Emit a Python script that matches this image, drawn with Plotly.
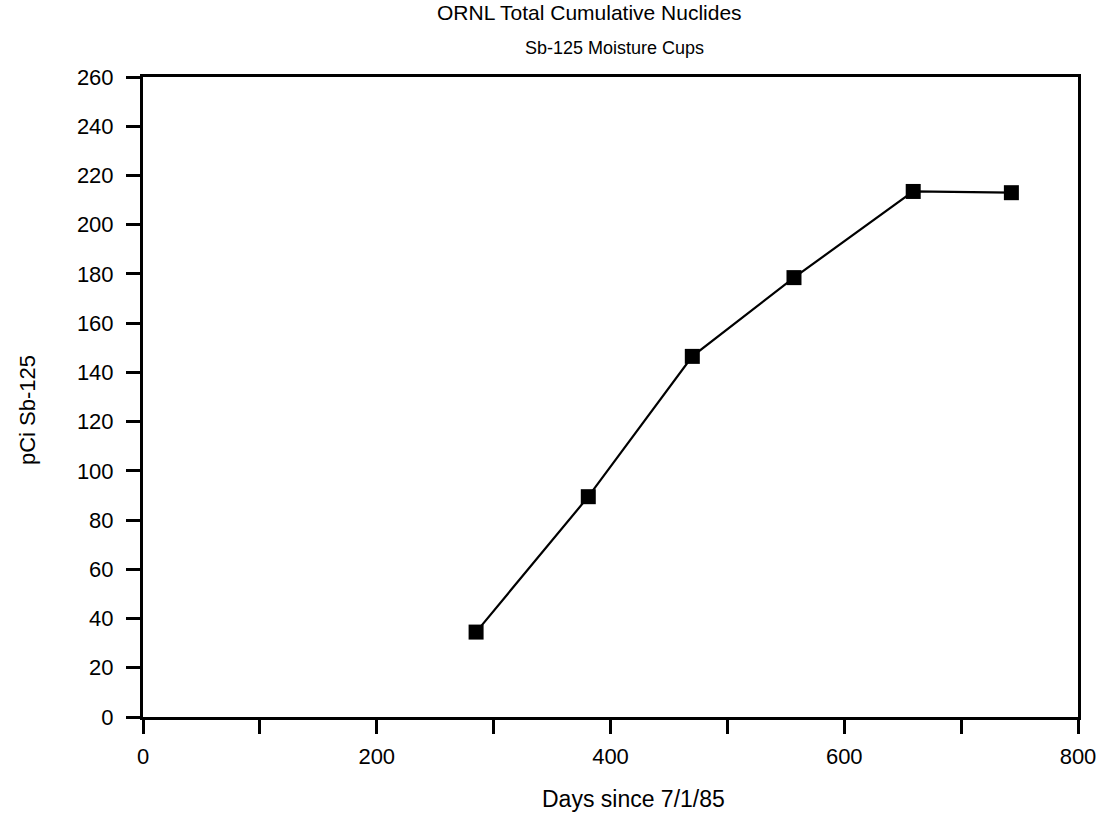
import plotly.graph_objects as go

days = [285, 381, 470, 557, 659, 743]
pci = [34.5, 89.5, 146.5, 178.5, 213.5, 213.0]

x_tickvals = [0, 100, 200, 300, 400, 500, 600, 700, 800]
x_ticktext = ["0", "", "200", "", "400", "", "600", "", "800"]
y_tickvals = list(range(0, 261, 20))

L, R, T, B = 143, 29, 77, 99
W, H = 1107, 816
plot_w = W - L - R
plot_h = H - T - B


def px_x(px):
    return (px - L) / plot_w


def px_y(py):
    return (H - B - py) / plot_h


fig = go.Figure()
fig.add_trace(go.Scatter(
    x=days, y=pci, mode="lines+markers",
    line=dict(color="black", width=2.2),
    marker=dict(symbol="square", size=15, color="black"),
    showlegend=False,
))

font = "Liberation Sans, Arial, Helvetica, sans-serif"
fig.update_layout(
    width=W, height=H,
    margin=dict(l=L, r=R, t=T, b=B),
    paper_bgcolor="white", plot_bgcolor="white",
    font=dict(family=font, color="black", size=22),
    annotations=[
        dict(text="ORNL Total Cumulative Nuclides", x=px_x(589), xref="paper",
             y=px_y(13), yref="paper", yanchor="middle", xanchor="center",
             showarrow=False, font=dict(size=21)),
        dict(text="Sb-125 Moisture Cups", x=px_x(614), xref="paper",
             y=px_y(48), yref="paper", yanchor="middle", xanchor="center",
             showarrow=False, font=dict(size=18)),
        dict(text="Days since 7/1/85", x=px_x(633), xref="paper",
             y=px_y(799), yref="paper", yanchor="middle", xanchor="center",
             showarrow=False, font=dict(size=23)),
        dict(text="pCi Sb-125", x=px_x(27), xref="paper",
             y=px_y(410), yref="paper", yanchor="middle", xanchor="center",
             textangle=-90, showarrow=False, font=dict(size=22)),
    ],
)

fig.update_xaxes(
    range=[0, 800], tickvals=x_tickvals, ticktext=x_ticktext,
    ticks="outside", ticklen=14, tickwidth=3, tickcolor="black",
    showline=True, linewidth=3, linecolor="black", mirror=True,
    showgrid=False, zeroline=False,
    tickfont=dict(size=22), ticklabelstandoff=4,
)
fig.update_yaxes(
    range=[0, 260], tickvals=y_tickvals,
    ticks="outside", ticklen=14, tickwidth=3, tickcolor="black",
    showline=True, linewidth=3, linecolor="black", mirror=True,
    showgrid=False, zeroline=False,
    tickfont=dict(size=22), ticklabelstandoff=8,
)

fig.write_html("out.html")
